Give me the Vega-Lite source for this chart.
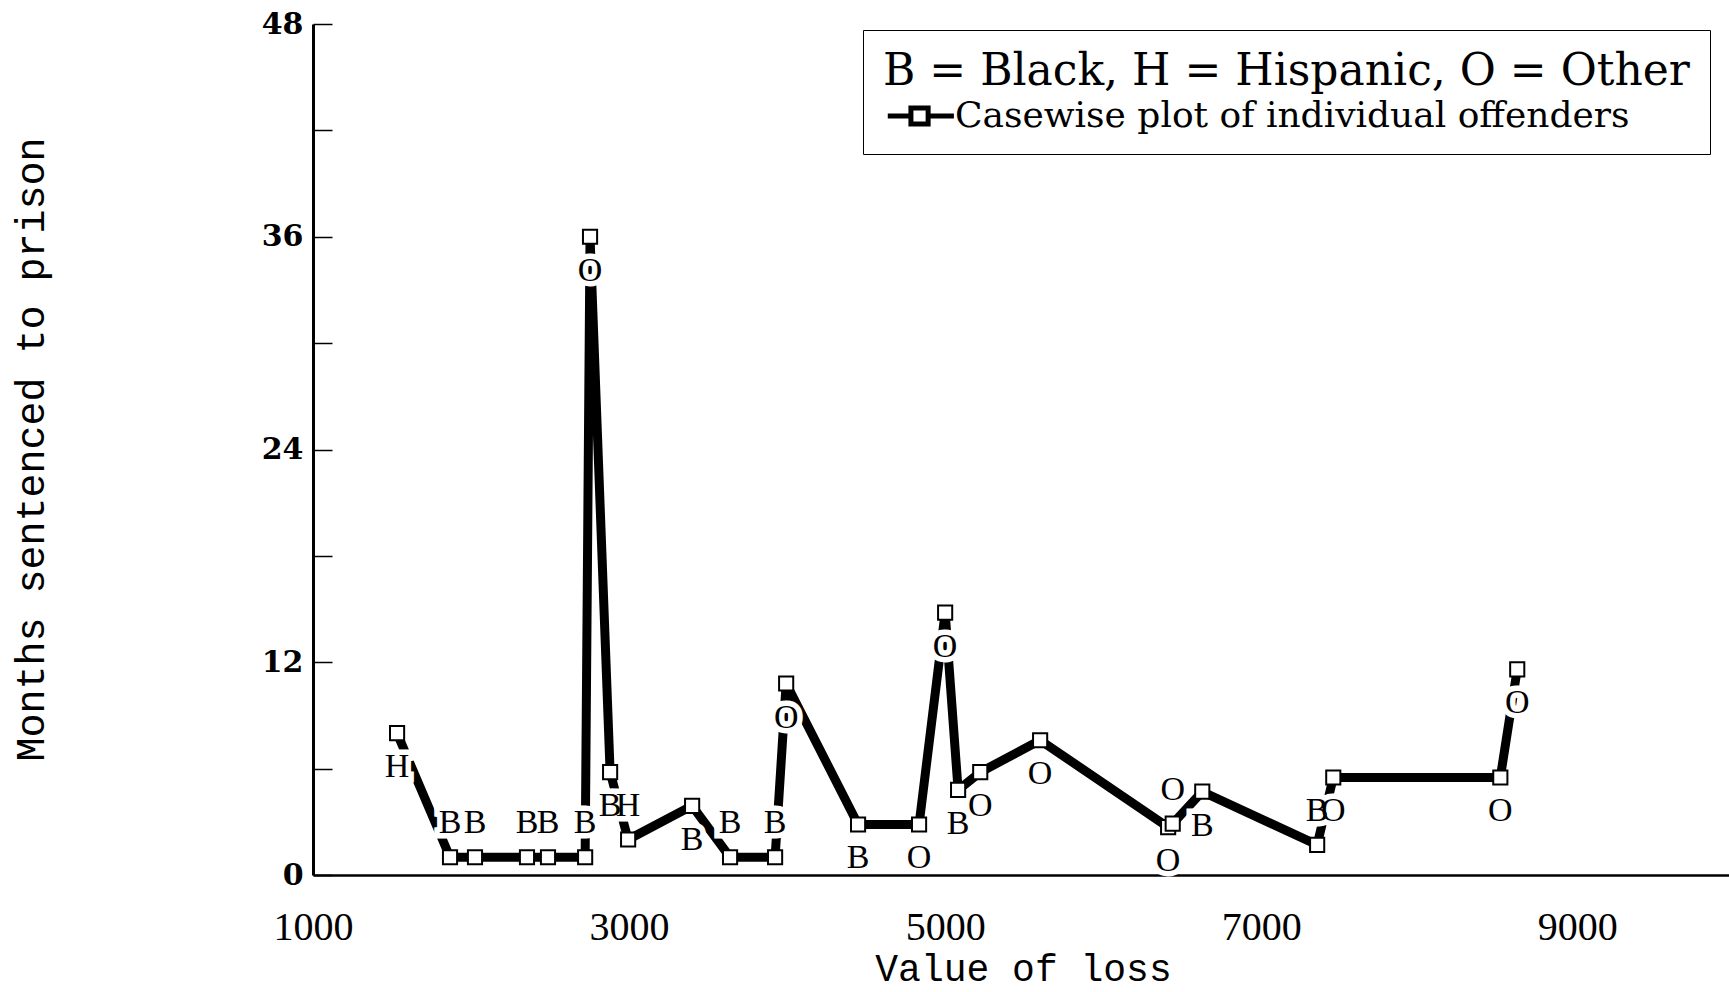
{
  "$schema": "https://vega.github.io/schema/vega-lite/v6.json",
  "autosize": "none",
  "padding": {"left": 313, "top": 24, "right": 0, "bottom": 117},
  "width": 1416,
  "height": 851,
  "background": "white",
  "config": {
    "view": {"stroke": null},
    "axis": {"domainColor": "black", "tickColor": "black", "labelColor": "black", "titleColor": "black", "grid": false}
  },
  "data": {
    "values": [
      {"id": 1, "loss": 1532, "months": 8, "race": "H", "series": "Casewise plot of individual offenders"},
      {"id": 2, "loss": 1867, "months": 1, "race": "B", "series": "Casewise plot of individual offenders"},
      {"id": 3, "loss": 2025, "months": 1, "race": "B", "series": "Casewise plot of individual offenders"},
      {"id": 4, "loss": 2354, "months": 1, "race": "B", "series": "Casewise plot of individual offenders"},
      {"id": 5, "loss": 2487, "months": 1, "race": "B", "series": "Casewise plot of individual offenders"},
      {"id": 6, "loss": 2722, "months": 1, "race": "B", "series": "Casewise plot of individual offenders"},
      {"id": 7, "loss": 2753, "months": 36, "race": "O", "series": "Casewise plot of individual offenders"},
      {"id": 8, "loss": 2880, "months": 5.8, "race": "B", "series": "Casewise plot of individual offenders"},
      {"id": 9, "loss": 2994, "months": 2, "race": "H", "series": "Casewise plot of individual offenders"},
      {"id": 10, "loss": 3399, "months": 3.9, "race": "B", "series": "Casewise plot of individual offenders"},
      {"id": 11, "loss": 3639, "months": 1, "race": "B", "series": "Casewise plot of individual offenders"},
      {"id": 12, "loss": 3924, "months": 1, "race": "B", "series": "Casewise plot of individual offenders"},
      {"id": 13, "loss": 3994, "months": 10.8, "race": "O", "series": "Casewise plot of individual offenders"},
      {"id": 14, "loss": 4449, "months": 2.85, "race": "B", "series": "Casewise plot of individual offenders"},
      {"id": 15, "loss": 4835, "months": 2.85, "race": "O", "series": "Casewise plot of individual offenders"},
      {"id": 16, "loss": 5000, "months": 14.8, "race": "O", "series": "Casewise plot of individual offenders"},
      {"id": 17, "loss": 5082, "months": 4.8, "race": "B", "series": "Casewise plot of individual offenders"},
      {"id": 18, "loss": 5222, "months": 5.8, "race": "O", "series": "Casewise plot of individual offenders"},
      {"id": 19, "loss": 5601, "months": 7.6, "race": "O", "series": "Casewise plot of individual offenders"},
      {"id": 20, "loss": 6411, "months": 2.7, "race": "O", "series": "Casewise plot of individual offenders"},
      {"id": 21, "loss": 6440, "months": 2.9, "race": "O", "series": "Casewise plot of individual offenders"},
      {"id": 22, "loss": 6627, "months": 4.7, "race": "B", "series": "Casewise plot of individual offenders"},
      {"id": 23, "loss": 7354, "months": 1.7, "race": "B", "series": "Casewise plot of individual offenders"},
      {"id": 24, "loss": 7456, "months": 5.5, "race": "O", "series": "Casewise plot of individual offenders"},
      {"id": 25, "loss": 8513, "months": 5.5, "race": "O", "series": "Casewise plot of individual offenders"},
      {"id": 26, "loss": 8620, "months": 11.6, "race": "O", "series": "Casewise plot of individual offenders"}
    ]
  },
  "encoding": {
    "x": {
      "field": "loss", "type": "quantitative",
      "scale": {"domain": [1000, 9960], "nice": false, "zero": false},
      "axis": {
        "title": "Value of loss",
        "values": [1000, 3000, 5000, 7000, 9000],
        "format": "d",
        "ticks": false,
        "domainWidth": 2.5,
        "labelFont": "Liberation Serif", "labelFontSize": 40, "labelBaseline": "top", "labelPadding": 32,
        "labelFlush": false,
        "titleFont": "Liberation Mono", "titleFontSize": 38, "titleFontWeight": "normal",
        "titleX": 710, "titleY": 94, "titleBaseline": "middle", "titleAlign": "center"
      }
    },
    "y": {
      "field": "months", "type": "quantitative",
      "scale": {"domain": [0, 48], "nice": false},
      "axis": {
        "title": "Months sentenced to prison",
        "values": [0, 6, 12, 18, 24, 30, 36, 42, 48],
        "labelExpr": "datum.value % 12 === 0 ? datum.label : ''",
        "tickSize": -19, "tickWidth": 1.5,
        "domainWidth": 3,
        "labelFont": "DejaVu Serif", "labelFontSize": 30, "labelFontWeight": "bold",
        "labelPadding": 29, "labelBaseline": "middle", "labelFlush": false,
        "titleFont": "Liberation Mono", "titleFontSize": 40, "titleFontWeight": "normal",
        "titleX": -282, "titleY": 425, "titleAngle": 270, "titleBaseline": "middle", "titleAlign": "center"
      }
    }
  },
  "layer": [
    {
      "mark": {"type": "line", "color": "black", "strokeWidth": 9, "strokeJoin": "miter", "strokeMiterLimit": 2, "strokeCap": "butt"},
      "encoding": {"order": {"field": "loss", "type": "quantitative"}}
    },
    {
      "transform": [{"filter": {"field": "id", "oneOf": [2, 3, 4, 5, 6, 9, 11, 12, 21, 23]}}],
      "mark": {"type": "text", "font": "Liberation Serif", "fontSize": 34, "dy": -34, "baseline": "middle", "stroke": "white", "strokeWidth": 11, "fill": "white"},
      "encoding": {"text": {"field": "race"}}
    },
    {
      "transform": [{"filter": {"field": "id", "oneOf": [1, 7, 8, 10, 13, 14, 15, 16, 17, 18, 19, 20, 22, 24, 25, 26]}}],
      "mark": {"type": "text", "font": "Liberation Serif", "fontSize": 34, "dy": 34, "baseline": "middle", "stroke": "white", "strokeWidth": 11, "fill": "white"},
      "encoding": {"text": {"field": "race"}}
    },
    {
      "transform": [{"filter": {"field": "id", "oneOf": [2, 3, 4, 5, 6, 9, 11, 12, 21, 23]}}],
      "mark": {"type": "text", "font": "Liberation Serif", "fontSize": 34, "dy": -34, "baseline": "middle", "color": "black"},
      "encoding": {"text": {"field": "race"}}
    },
    {
      "transform": [{"filter": {"field": "id", "oneOf": [1, 7, 8, 10, 13, 14, 15, 16, 17, 18, 19, 20, 22, 24, 25, 26]}}],
      "mark": {"type": "text", "font": "Liberation Serif", "fontSize": 34, "dy": 34, "baseline": "middle", "color": "black"},
      "encoding": {"text": {"field": "race"}}
    },
    {
      "mark": {"type": "point", "shape": "square", "filled": true, "fill": "white", "size": 200, "strokeWidth": 2, "opacity": 1},
      "encoding": {
        "stroke": {
          "field": "series", "type": "nominal",
          "scale": {"range": ["black"]},
          "legend": {
            "title": "B = Black, H = Hispanic, O = Other",
            "orient": "none", "legendX": 550, "legendY": 6,
            "strokeColor": "black", "fillColor": "white", "padding": 20,
            "titleFont": "DejaVu Serif", "titleFontSize": 44, "titleFontWeight": "normal", "titlePadding": 4,
            "titleLimit": 2000, "labelLimit": 2000,
            "labelFont": "DejaVu Serif", "labelFontSize": 36,
            "symbolType": "M-1,0H0.75 M2.05,0H4 M0.75,-0.6H2.05V0.6H0.75Z",
            "symbolSize": 700, "symbolFillColor": "white", "symbolStrokeWidth": 5, "symbolStrokeColor": "black",
            "symbolOpacity": 1,
            "labelOffset": 36
          }
        }
      }
    }
  ]
}
